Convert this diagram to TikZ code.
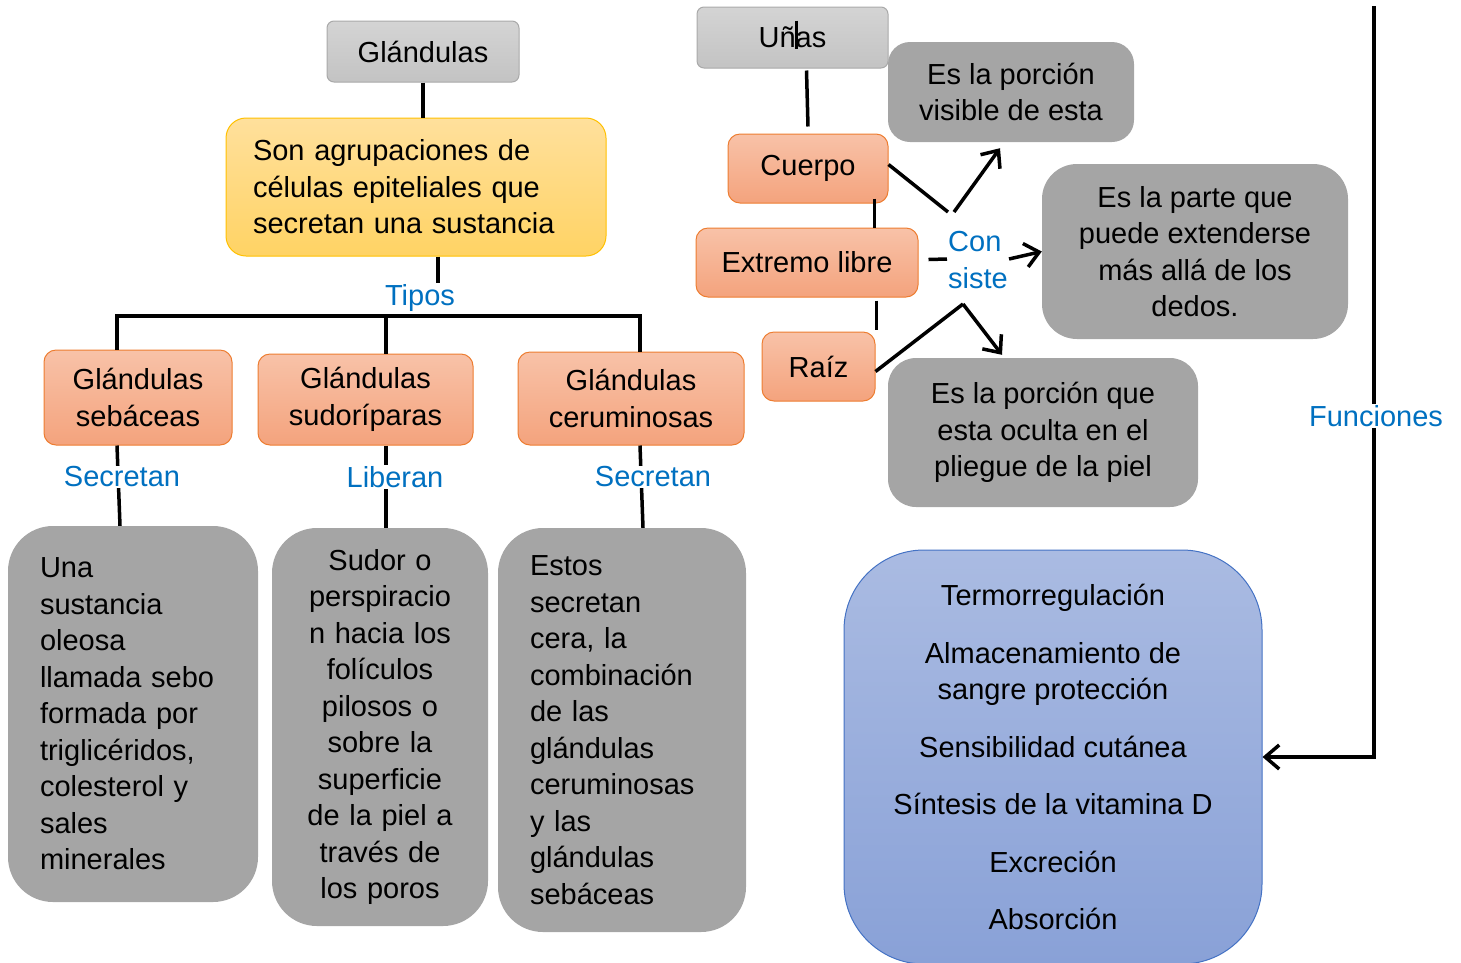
\documentclass[tikz,border=0pt]{standalone}
\usepackage{fontspec}
\setmainfont{Liberation Sans}
\usetikzlibrary{arrows.meta,positioning}

\definecolor{tagblue}{HTML}{0070C0}
\definecolor{infogray}{HTML}{A5A5A5}
\definecolor{hdtop}{HTML}{D4D4D4}
\definecolor{hdbot}{HTML}{C3C3C3}
\definecolor{hddraw}{HTML}{A9A9A9}
\definecolor{yltop}{HTML}{FFE09C}
\definecolor{ylbot}{HTML}{FFD364}
\definecolor{yldraw}{HTML}{FFC000}
\definecolor{ortop}{HTML}{F8C2A8}
\definecolor{orbot}{HTML}{F4A37D}
\definecolor{ordraw}{HTML}{ED7D31}
\definecolor{bltop}{HTML}{AABBE2}
\definecolor{blbot}{HTML}{89A1D7}
\definecolor{bldraw}{HTML}{4472C4}

\begin{document}
\begin{tikzpicture}[x=1pt,y=-1pt,font=\fontsize{29}{36.5}\selectfont]
  %----- styles
  \tikzset{
    head/.style ={draw=hddraw,line width=1pt,top color=hdtop,bottom color=hdbot,rounded corners=7pt,align=center},
    defn/.style ={draw=yldraw,line width=1pt,top color=yltop,bottom color=ylbot,rounded corners=20pt},
    kind/.style ={draw=ordraw,line width=1pt,top color=ortop,bottom color=orbot,rounded corners=12pt,align=center},
    info/.style ={fill=infogray,rounded corners=45pt},
    funbox/.style={draw=bldraw,line width=1pt,top color=bltop,bottom color=blbot,rounded corners=80pt,align=center},
    tag/.style  ={text=tagblue,inner sep=1pt,align=left},
    link/.style ={line width=3.5pt},
    arrow/.style={-{Straight Barb[length=14pt,width=24pt]},line width=3.5pt}
  }
  \useasboundingbox (0,0) rectangle (1461,962);

  %----- nodes
  % glandulas branch
  \node[head,minimum width=192pt,minimum height=61pt] (glan) at (423,51.5) {Glándulas};
  \node[defn,minimum width=380pt,minimum height=138pt,text width=326pt,align=left] (defn) at (416,187)
    {Son agrupaciones de\\células epiteliales que\\secretan una sustancia};
  \node[kind,minimum width=188pt,minimum height=95pt] (seb) at (138,397.5) {Glándulas\\sebáceas};
  \node[kind,minimum width=215pt,minimum height=91pt] (sud) at (365.5,399.5) {Glándulas\\sudoríparas};
  \node[kind,minimum width=226pt,minimum height=93pt] (cer) at (631,398.5) {Glándulas\\ceruminosas};
  \node[info,minimum width=250pt,minimum height=376pt,text width=186pt,align=left] (info1) at (133,714)
    {Una\\sustancia\\oleosa\\llamada sebo\\formada por\\triglicéridos,\\colesterol y\\sales\\minerales};
  \node[info,minimum width=216pt,minimum height=398pt,text width=190pt,align=center] (info2) at (380,727)
    {Sudor o\\perspiracio\\n hacia los\\folículos\\pilosos o\\sobre la\\superficie\\de la piel a\\través de\\los poros};
  \node[info,minimum width=248pt,minimum height=404pt,text width=184pt,align=left] (info3) at (622,730)
    {Estos\\secretan\\cera, la\\combinación\\de las\\glándulas\\ceruminosas\\y las\\glándulas\\sebáceas};
  % unas branch
  \node[head,minimum width=191pt,minimum height=61pt] (unas) at (792.5,37.5) {Uñas};
  \node[kind,minimum width=160pt,minimum height=69pt] (cuerpo) at (808,168.5) {Cuerpo};
  \node[kind,minimum width=222pt,minimum height=69pt] (extremo) at (807,262.5) {Extremo libre};
  \node[kind,minimum width=113pt,minimum height=69pt] (raiz) at (818.5,366.5) {Raíz};
  \node[info,rounded corners=22pt,minimum width=246pt,minimum height=100pt,align=center] (vis) at (1011,92)
    {Es la porción\\visible de esta};
  \node[info,rounded corners=35pt,minimum width=306pt,minimum height=175pt,align=center] (ext) at (1195,251.5)
    {Es la parte que\\puede extenderse\\más allá de los\\dedos.};
  \node[info,rounded corners=28pt,minimum width=310pt,minimum height=149pt,align=center] (ocu) at (1043,432.5)
    {Es la porción que\\esta oculta en el\\pliegue de la piel};
  % funciones
  \node[funbox,minimum width=418pt,minimum height=414pt] (fun) at (1053,757)
    {Termorregulación\\[21pt]Almacenamiento de\\sangre protección\\[21pt]Sensibilidad cutánea\\[21pt]Síntesis de la vitamina D\\[21pt]Excreción\\[21pt]Absorción};

  %----- labels
  \node[tag] (tipos) at (420,298) {Tipos};
  \node[tag] (consiste) at (978,260) {Con\\siste};
  \node[tag] (func) at (1376,416) {Funciones};
  \coordinate (barL) at (117,316);
  \coordinate (barM) at (386,316);
  \coordinate (barR) at (640,316);
  \coordinate (ftop) at (1374,6);
  \coordinate (cuj) at (951,212);
  \coordinate (raj) at (963,304);

  %----- connections
  \draw[link] (glan.south) -- (glan.south |- defn.north);
  \draw[link] ([xshift=22pt]defn.south) -- ([xshift=22pt]defn.south |- tipos.north);
  \draw[link] (barL |- seb.north) -- (barL) -- (barR) -- (barR |- cer.north);
  \draw[link] (barM) -- (barM |- sud.north);

  \draw[link] (barL |- seb.south) -- ([xshift=3pt]barL |- info1.north);
  \draw[link] (barM |- sud.south) -- (barM |- info2.north);
  \draw[link] (barR |- cer.south) -- ([xshift=3pt]barR |- info3.north);
  \node[tag,fill=white] (sec1) at (122,477) {Secretan};
  \node[tag,fill=white] (lib) at (395,477) {Liberan};
  \node[tag,fill=white] (sec2) at (653,477) {Secretan};

  \draw[link,line width=3pt] ([xshift=3.5pt,yshift=17pt]unas.center) -- ([xshift=3.5pt,yshift=-11pt]unas.center);
  \draw[link] ([xshift=14pt,yshift=-2pt]unas.south) -- ([yshift=7pt]cuerpo.north);
  \draw[link] ([xshift=-14pt,yshift=5pt]cuerpo.south east) -- ([xshift=-14pt]cuerpo.south east |- extremo.north);
  \draw[link] ([xshift=1pt,yshift=-3pt]raiz.north east |- extremo.south) -- ([xshift=1pt,yshift=2pt]raiz.north east);

  \draw[link] ([yshift=4pt]cuerpo.east) -- ([xshift=-3pt]cuj);
  \draw[arrow] ([xshift=3pt]cuj) -- ([xshift=-11pt,yshift=-6pt]vis.south);
  \draw[link] ([xshift=10pt,yshift=3pt]extremo.east) -- ([yshift=1pt]consiste.west);
  \draw[arrow] ([yshift=1pt]consiste.east) -- (ext.west);
  \draw[link] ([yshift=-5pt]raiz.east) -- (raj);
  \draw[arrow] (raj) -- ([xshift=-41pt,yshift=3pt]ocu.north);

  \draw[link] (ftop) -- (func.north -| ftop);
  \draw[arrow] (func.south -| ftop) |- (fun.east);
\end{tikzpicture}
\end{document}
